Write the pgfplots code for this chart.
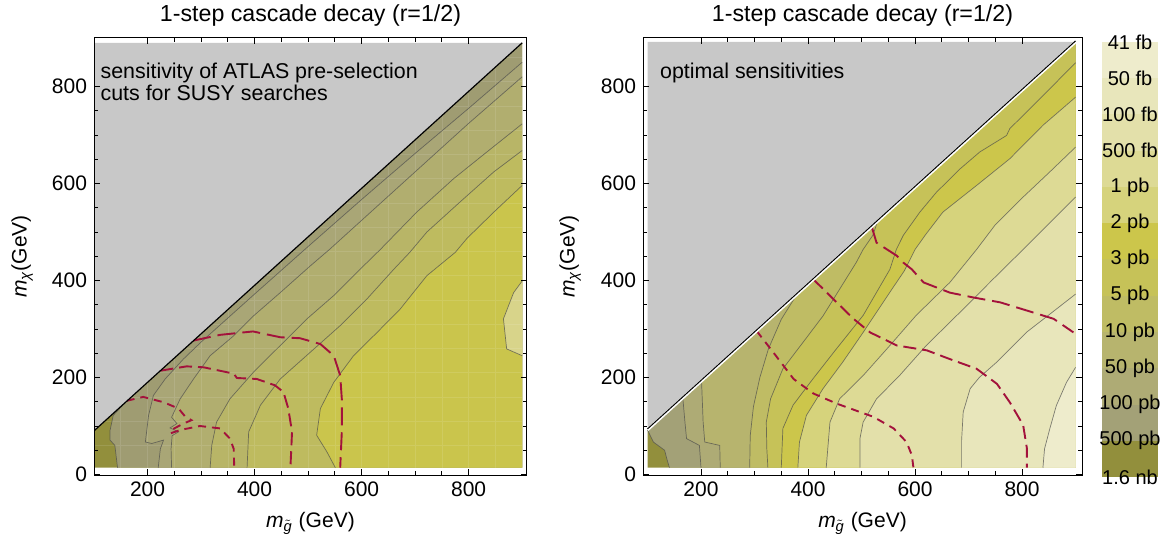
\documentclass[border=0pt]{standalone}
\usepackage{fontspec}
\setmainfont{Liberation Sans}
\usepackage{pgfplots}
\pgfplotsset{compat=1.18}
\usepackage{pgfplotstable}

\definecolor{grayc}{HTML}{C8C8C8}
\definecolor{dashred}{HTML}{A3123C}
% colour bands, from 1.6 nb (b0) to 41 fb (b11)
\definecolor{b0}{HTML}{928F3C}
\definecolor{b1}{HTML}{A3A177}
\definecolor{b2}{HTML}{AEAB75}
\definecolor{b3}{HTML}{B7B46E}
\definecolor{b4}{HTML}{BFBC64}
\definecolor{b5}{HTML}{C6C258}
\definecolor{b6}{HTML}{CCC64B}
\definecolor{b7}{HTML}{D6D37C}
\definecolor{b8}{HTML}{DDDA95}
\definecolor{b9}{HTML}{E3E0AA}
\definecolor{b10}{HTML}{E8E6BB}
\definecolor{b11}{HTML}{EEECCC}
% left panel shades
\definecolor{l1}{HTML}{9F9C72}
\definecolor{l2}{HTML}{A9A676}
\definecolor{l3}{HTML}{B1AE6F}
\definecolor{l4}{HTML}{B8B567}
\definecolor{l5}{HTML}{BEBB5F}
\definecolor{l6}{HTML}{CAC54C}
\definecolor{l7}{HTML}{D8D48A}

% ---------- left panel contours ----------
\pgfplotstableread{
x y
158 148
136 122
130 91
130 71
139 60
144 14
}\LA
\pgfplotstableread{
x y
900 850
800 755
700 662
600 567
500 470
400 372
300 273
267 238
233 197
211 163
202 122
196 67
208 64
230 71
224 53
220 14
}\LB
\pgfplotstableread{
x y
900 820
800 724
700 624
600 524
541 465
504 430
448 375
398 327
361 286
317 245
286 197
261 156
245 118
255 105
242 96
258 88
246 80
244 53
245 14
}\LC
\pgfplotstableread{
x y
900 723
834 665
772 610
703 541
635 464
597 423
548 369
498 321
448 266
398 211
354 156
329 108
320 60
317 14
}\LD
\pgfplotstableread{
x y
900 668
847 624
784 562
722 500
690 458
660 423
610 362
560 307
504 252
448 197
411 143
389 88
386 14
}\LE
\pgfplotstableread{
x y
900 596
847 541
797 487
775 458
722 410
672 341
629 293
585 245
548 190
523 136
516 81
535 47
551 14
}\LF
\pgfplotstableread{
x y
900 399
884 375
865 321
871 259
900 245
}\LG

% ---------- right panel contours ----------
\pgfplotstableread{
x y
100 92
111 67
132 50
136 33
141 14
}\RA
\pgfplotstableread{
x y
166 158
170 108
173 74
197 60
200 14
}\RB
\pgfplotstableread{
x y
201 193
204 108
207 67
235 60
236 14
}\RC
\pgfplotstableread{
x y
379 371
350 320
326 259
310 200
298 140
292 80
291 14
}\RD
\pgfplotstableread{
x y
530 522
521 493
503 464
490 437
459 382
428 327
391 273
353 218
330 156
322 108
323 53
325 14
}\RE
\pgfplotstableread{
x y
900 849
839 781
777 713
771 699
721 665
684 630
640 582
609 541
578 493
565 464
553 423
503 328
453 259
409 197
372 143
353 95
350 14
}\RF
\pgfplotstableread{
x y
900 778
839 720
777 651
715 596
652 541
620 495
600 464
580 420
553 376
503 293
465 232
428 177
397 122
384 67
381 14
}\RG
\pgfplotstableread{
x y
900 675
850 622
800 570
750 515
715 464
665 396
602 328
553 266
503 204
459 156
441 108
434 14
}\RH
\pgfplotstableread{
x y
900 572
850 517
802 464
746 403
690 341
621 266
571 204
528 156
503 108
497 74
497 14
}\RI
\pgfplotstableread{
x y
900 372
864 341
808 293
753 232
720 200
703 177
690 129
687 70
687 14
}\RJ
\pgfplotstableread{
x y
900 221
883 190
864 142
852 95
842 53
839 14
}\RK

\pgfplotsset{
  panel/.style={
    scale only axis, anchor=south west,
    height=218.5pt,
    ymin=-1, ymax=900,
    xtick={200,400,...,800}, ytick={0,200,...,800},
    minor tick num=3,
    major tick length=3pt, minor tick length=1.8pt,
    tick style={black, line width=0.4pt},
    axis line style={black, line width=0.5pt},
    tick label style={font=\fontsize{10.5}{12}\selectfont},
    /pgf/number format/assume math mode=true,
    axis on top,
    unbounded coords=jump,
    title style={font=\fontsize{11.6}{13}\selectfont, at={(axis description cs:0.5,1)}, anchor=base, yshift=2pt},
    xlabel style={font=\fontsize{10.5}{12}\selectfont, at={(axis description cs:0.5,-0.11)}, anchor=center},
    ylabel style={font=\fontsize{10.5}{12}\selectfont, at={(axis description cs:-0.166,0.5)}, anchor=center},
    title={1-step cascade decay (r=1/2)},
    xlabel={\textit{m}\textsubscript{$\tilde{\textit{g}}$} (GeV)},
    ylabel={\textit{m}\textsubscript{\textit{χ}}(GeV)},
  },
  cline/.style={draw=black!70, draw opacity=0.7, line width=0.35pt},
  dline/.style={draw=dashred, line width=0.95pt},
  mesh/.style={draw=white, draw opacity=0.11, line width=0.3pt},
}

\begin{document}
\begin{tikzpicture}
\path[use as bounding box] (0,0) rectangle (583pt,270.5pt);

% ================= left panel =================
\begin{axis}[panel, at={(47pt,33pt)}, width=216.5pt, xmin=100, xmax=909]
\addplot[fill=b0, draw=none] coordinates {(100,14) (900,14) (900,890) (100,90)} -- cycle;
\addplot[fill=l1, draw=none] table {\LA} -- (axis cs:900,14) -- (axis cs:900,890) -- cycle;
\addplot[fill=l2, draw=none] table {\LB} -- (axis cs:900,14) -- cycle;
\addplot[fill=l3, draw=none] table {\LC} -- (axis cs:900,14) -- cycle;
\addplot[fill=l4, draw=none] table {\LD} -- (axis cs:900,14) -- cycle;
\addplot[fill=l5, draw=none] table {\LE} -- (axis cs:900,14) -- cycle;
\addplot[fill=l6, draw=none] table {\LF} -- (axis cs:900,14) -- cycle;
\addplot[fill=l7, draw=none] table {\LG} -- cycle;
% faint sampling mesh of the original plot
\addplot[mesh] coordinates {
(150,14) (150,890) (nan,nan) (200,14) (200,890) (nan,nan) (250,14) (250,890) (nan,nan)
(300,14) (300,890) (nan,nan) (350,14) (350,890) (nan,nan) (400,14) (400,890) (nan,nan)
(450,14) (450,890) (nan,nan) (500,14) (500,890) (nan,nan) (550,14) (550,890) (nan,nan)
(600,14) (600,890) (nan,nan) (650,14) (650,890) (nan,nan) (700,14) (700,890) (nan,nan)
(750,14) (750,890) (nan,nan) (800,14) (800,890) (nan,nan) (850,14) (850,890) (nan,nan)
(100,60) (900,60) (nan,nan) (100,110) (900,110) (nan,nan) (100,160) (900,160) (nan,nan)
(100,210) (900,210) (nan,nan) (100,260) (900,260) (nan,nan) (100,310) (900,310) (nan,nan)
(100,360) (900,360) (nan,nan) (100,410) (900,410) (nan,nan) (100,460) (900,460) (nan,nan)
(100,510) (900,510) (nan,nan) (100,560) (900,560) (nan,nan) (100,610) (900,610) (nan,nan)
(100,660) (900,660) (nan,nan) (100,710) (900,710) (nan,nan) (100,760) (900,760) (nan,nan)
(100,810) (900,810) (nan,nan) (100,860) (900,860)};
\addplot[cline] table {\LA};
\addplot[cline] table {\LB};
\addplot[cline] table {\LC};
\addplot[cline] table {\LD};
\addplot[cline] table {\LE};
\addplot[cline] table {\LF};
\addplot[cline] table {\LG};
% dashed limits
\addplot[dline, dash pattern=on 9pt off 3.5pt] coordinates {(285,276) (336,288) (397,295) (448,283) (485,281) (523,269) (548,245) (560,204) (563,156) (563,88) (560,14)};
\addplot[dline, dash pattern=on 6.5pt off 3pt] coordinates {(224,214) (273,223) (305,221) (361,208) (367,199) (404,197) (438,184) (454,170) (463,136) (470,88) (467,14)};
\addplot[dline, dash pattern=on 4pt off 3pt] coordinates {(161,152) (192,160) (230,149) (258,136) (270,120) (282,112) (265,104) (245,92) (243,85) (262,92) (298,100) (336,95) (354,74) (361,53) (362,14)};
% excluded region
\addplot[fill=grayc, draw=none] coordinates {(100,90) (900,890) (100,890)} -- cycle;
\addplot[black, line width=0.6pt] coordinates {(100,90) (900,890)};
\node[anchor=base west, inner sep=0, font=\fontsize{10.7}{12}\selectfont] at (axis cs:111.6,817) {sensitivity of ATLAS pre-selection};
\node[anchor=base west, inner sep=0, font=\fontsize{10.7}{12}\selectfont] at (axis cs:111.6,772) {cuts for SUSY searches};
\end{axis}

% ================= right panel =================
\begin{axis}[panel, at={(321.5pt,33pt)}, width=219.5pt, xmin=91.6, xmax=912]
\addplot[fill=b0, draw=none] coordinates {(100,14) (900,14) (900,892) (100,92)} -- cycle;
\addplot[fill=b1, draw=none] table {\RA} -- (axis cs:900,14) -- (axis cs:900,892) -- cycle;
\addplot[fill=b2, draw=none] table {\RB} -- (axis cs:900,14) -- (axis cs:900,892) -- cycle;
\addplot[fill=b3, draw=none] table {\RC} -- (axis cs:900,14) -- (axis cs:900,892) -- cycle;
\addplot[fill=b4, draw=none] table {\RD} -- (axis cs:900,14) -- (axis cs:900,892) -- cycle;
\addplot[fill=b5, draw=none] table {\RE} -- (axis cs:900,14) -- (axis cs:900,892) -- cycle;
\addplot[fill=b6, draw=none] table {\RF} -- (axis cs:900,14) -- cycle;
\addplot[fill=b7, draw=none] table {\RG} -- (axis cs:900,14) -- cycle;
\addplot[fill=b8, draw=none] table {\RH} -- (axis cs:900,14) -- cycle;
\addplot[fill=b9, draw=none] table {\RI} -- (axis cs:900,14) -- cycle;
\addplot[fill=b10, draw=none] table {\RJ} -- (axis cs:900,14) -- cycle;
\addplot[fill=b11, draw=none] table {\RK} -- (axis cs:900,14) -- cycle;
\addplot[cline] table {\RA};
\addplot[cline] table {\RB};
\addplot[cline] table {\RC};
\addplot[cline] table {\RD};
\addplot[cline] table {\RE};
\addplot[cline] table {\RF};
\addplot[cline] table {\RG};
\addplot[cline] table {\RH};
\addplot[cline] table {\RI};
\addplot[cline] table {\RJ};
\addplot[cline] table {\RK};
\addplot[dline, dash pattern=on 9pt off 3.5pt] coordinates {(519,511) (528,478) (566,451) (578,437) (594,423) (616,396) (665,375) (709,365) (759,355) (821,334) (859,321) (896,293)};
\addplot[dline, dash pattern=on 6.5pt off 3pt] coordinates {(410,402) (429,382) (447,362) (485,321) (516,293) (566,266) (622,256) (665,238) (715,218) (753,187) (777,149) (802,102) (809,54) (809,14)};
\addplot[dline, dash pattern=on 4pt off 3pt] coordinates {(304,296) (335,252) (373,197) (410,167) (454,146) (522,119) (560,95) (584,67) (594,40) (597,14)};
\addplot[fill=grayc, draw=none] coordinates {(100,92) (900,892) (100,892)} -- cycle;
\addplot[white, line width=1.4pt] coordinates {(100,92) (900,892)};
\addplot[black, line width=0.5pt, yshift=0.5pt] coordinates {(100,92) (900,892)};
\node[anchor=base west, inner sep=0, font=\fontsize{10.7}{12}\selectfont] at (axis cs:122.8,817) {optimal sensitivities};
\end{axis}

% ================= colour bar =================
\begin{axis}[at={(551pt,32pt)}, anchor=south west, scale only axis, width=28pt, height=217.5pt,
  xmin=0, xmax=1, ymin=0, ymax=12, hide axis, clip=false]
\addplot[fill=b0, draw=none] coordinates {(0,0) (1,0) (1,1) (0,1)} -- cycle;
\addplot[fill=b1, draw=none] coordinates {(0,1) (1,1) (1,2) (0,2)} -- cycle;
\addplot[fill=b2, draw=none] coordinates {(0,2) (1,2) (1,3) (0,3)} -- cycle;
\addplot[fill=b3, draw=none] coordinates {(0,3) (1,3) (1,4) (0,4)} -- cycle;
\addplot[fill=b4, draw=none] coordinates {(0,4) (1,4) (1,5) (0,5)} -- cycle;
\addplot[fill=b5, draw=none] coordinates {(0,5) (1,5) (1,6) (0,6)} -- cycle;
\addplot[fill=b6, draw=none] coordinates {(0,6) (1,6) (1,7) (0,7)} -- cycle;
\addplot[fill=b7, draw=none] coordinates {(0,7) (1,7) (1,8) (0,8)} -- cycle;
\addplot[fill=b8, draw=none] coordinates {(0,8) (1,8) (1,9) (0,9)} -- cycle;
\addplot[fill=b9, draw=none] coordinates {(0,9) (1,9) (1,10) (0,10)} -- cycle;
\addplot[fill=b10, draw=none] coordinates {(0,10) (1,10) (1,11) (0,11)} -- cycle;
\addplot[fill=b11, draw=none] coordinates {(0,11) (1,11) (1,12) (0,12)} -- cycle;
\begin{scope}[every node/.style={font=\fontsize{10}{11}\selectfont, inner sep=0}]
\node at (axis cs:0.5,12) {41 fb};
\node at (axis cs:0.5,11) {50 fb};
\node at (axis cs:0.5,10) {100 fb};
\node at (axis cs:0.5,9) {500 fb};
\node at (axis cs:0.5,8) {1 pb};
\node at (axis cs:0.5,7) {2 pb};
\node at (axis cs:0.5,6) {3 pb};
\node at (axis cs:0.5,5) {5 pb};
\node at (axis cs:0.5,4) {10 pb};
\node at (axis cs:0.5,3) {50 pb};
\node at (axis cs:0.5,2) {100 pb};
\node at (axis cs:0.5,1) {500 pb};
\node at (axis cs:0.5,0) {1.6 nb};
\end{scope}
\end{axis}
\end{tikzpicture}
\end{document}
